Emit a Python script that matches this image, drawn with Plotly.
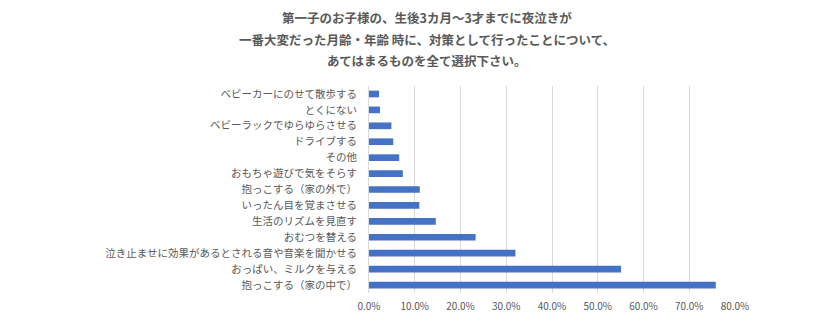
import plotly.graph_objects as go

categories = [
    "抱っこする（家の中で）",
    "おっぱい、ミルクを与える",
    "泣き止ませに効果があるとされる音や音楽を聞かせる",
    "おむつを替える",
    "生活のリズムを見直す",
    "いったん目を覚まさせる",
    "抱っこする（家の外で）",
    "おもちゃ遊びで気をそらす",
    "その他",
    "ドライブする",
    "ベビーラックでゆらゆらさせる",
    "とくにない",
    "ベビーカーにのせて散歩する",
]
values = [0.758, 0.551, 0.320, 0.233, 0.146, 0.110, 0.111, 0.074, 0.066, 0.053, 0.049, 0.024, 0.022]
tick_vals = [0, 0.1, 0.2, 0.3, 0.4, 0.5, 0.6, 0.7, 0.8]
tick_text = ["0.0%", "10.0%", "20.0%", "30.0%", "40.0%", "50.0%", "60.0%", "70.0%", "80.0%"]
title_lines = [
    "第一子のお子様の、生後3カ月～3才までに夜泣きが",
    "一番大変だった月齢・年齢 時に、対策として行ったことについて、",
    "あてはまるものを全て選択下さい。",
]

FONT = "Noto Sans CJK JP"
GRAY = "#595959"

L, R, T, B = 369, 105, 86, 32

fig = go.Figure(go.Bar(
    x=values, y=categories, orientation="h",
    marker=dict(color="#4472C4", line=dict(width=0)),
    width=0.42,
))

fig.update_layout(
    width=840, height=325,
    margin=dict(l=L, r=R, t=T, b=B),
    paper_bgcolor="white", plot_bgcolor="white",
    showlegend=False,
    font=dict(family=FONT, color=GRAY, size=10.5),
    xaxis=dict(range=[0, 0.8], tickvals=tick_vals, ticktext=tick_text,
               showgrid=True, gridcolor="#d9d9d9", gridwidth=1,
               zeroline=False, showline=False, ticks="", ticklabelstandoff=6,
               tickfont=dict(size=10, color=GRAY, family=FONT)),
    yaxis=dict(showgrid=False, zeroline=False, showline=True, linecolor="#d9d9d9",
               ticks="", ticklabelstandoff=9,
               tickfont=dict(size=10.5, color=GRAY, family=FONT),
               range=[-0.5, len(categories) - 0.5]),
)

pw = 840 - L - R
ph = 325 - T - B
ys = [17, 40, 61]
for line, y in zip(title_lines, ys):
    fig.add_annotation(text="<b>" + line + "</b>",
                       x=(427 - L) / pw, y=(325 - y - B) / ph,
                       xref="paper", yref="paper", showarrow=False,
                       font=dict(size=12.5, color=GRAY, family=FONT),
                       xanchor="center", yanchor="middle")

fig.write_html("out.html")
